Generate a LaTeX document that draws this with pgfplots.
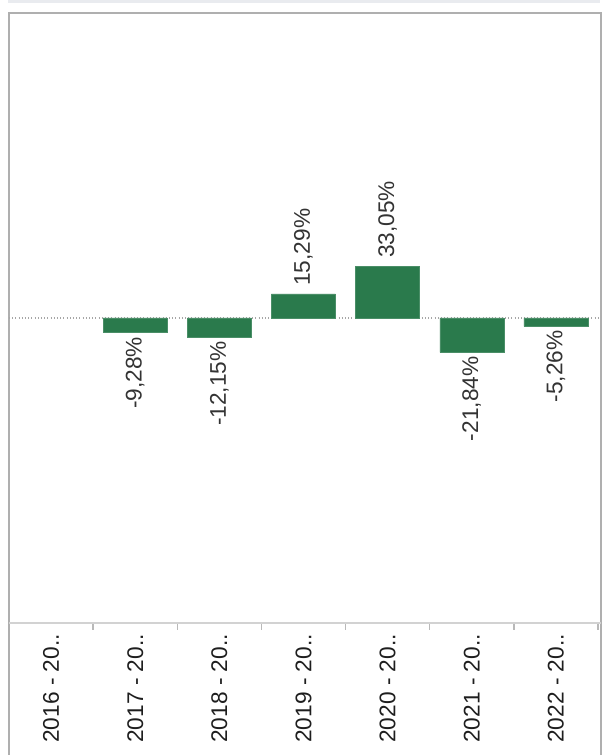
\documentclass[border=0pt]{standalone}
\usepackage{pgfplots}
\pgfplotsset{compat=1.18}
\usepackage{fontspec}
\setmainfont{Liberation Sans}
\definecolor{bargreen}{RGB}{42,122,76}
\definecolor{framegray}{RGB}{175,175,175}
\definecolor{bandgray}{RGB}{233,235,239}
\definecolor{labelgray}{RGB}{51,51,51}
\definecolor{ticktext}{RGB}{30,30,30}
\begin{document}
\begin{tikzpicture}[x=0.75pt,y=0.75pt]
\useasboundingbox (0,0) rectangle (608,755);
\fill[white] (0,0) rectangle (608,755);
\fill[bandgray] (8,752) rectangle (600,755);
\draw[framegray, line width=1.2pt] (9,0) -- (9,742) -- (601,742) -- (601,0);
\begin{axis}[
  at={(6.75pt,556.5pt)}, anchor=north west,
  scale only axis, width=441.75pt, height=457.5pt,
  xmin=-0.5, xmax=6.5, ymin=-194, ymax=194,
  axis line style={draw=none},
  ytick=\empty,
  xtick pos=bottom,
  xtick={0,...,6},
  xticklabels={2016 - 20..,2017 - 20..,2018 - 20..,2019 - 20..,2020 - 20..,2021 - 20..,2022 - 20..},
  xtick style={draw=none},
  xticklabel style={rotate=90, anchor=east, inner xsep=4pt, font=\fontsize{17}{20}\selectfont, text=ticktext},
  extra x ticks={0.5,1.5,2.5,3.5,4.5,5.5,6.5},
  extra x tick labels={},
  extra x tick style={tick align=outside, xtick pos=bottom, major tick length=5pt, xtick style={draw=gray!55, line width=1pt}},
  extra y ticks={0},
  extra y tick labels={},
  extra y tick style={grid=major, major grid style={dotted, gray!70, line width=0.8pt}, ytick style={draw=none}},
  ybar, bar width=48pt,
]
\addplot[fill=bargreen, draw=bargreen!85!white, bar shift=0pt,
  nodes near coords={\pgfmathprintnumber[fixed,fixed zerofill,precision=2,use comma,assume math mode=true]{\pgfplotspointmeta}\%},
  nodes near coords style={rotate=90, anchor=west, inner xsep=6pt, font=\fontsize{17}{20}\selectfont, text=labelgray}]
  coordinates {(3,15.29) (4,33.05)};
\addplot[fill=bargreen, draw=bargreen!85!white, bar shift=0pt,
  nodes near coords={\pgfmathprintnumber[fixed,fixed zerofill,precision=2,use comma,assume math mode=true]{\pgfplotspointmeta}\%},
  nodes near coords style={rotate=90, anchor=east, inner xsep=3pt, font=\fontsize{17}{20}\selectfont, text=labelgray}]
  coordinates {(1,-9.28) (2,-12.15) (5,-21.84) (6,-5.26)};
\end{axis}
\draw[gray!35, line width=0.8pt] (9,132) -- (601,132);
\end{tikzpicture}
\end{document}
